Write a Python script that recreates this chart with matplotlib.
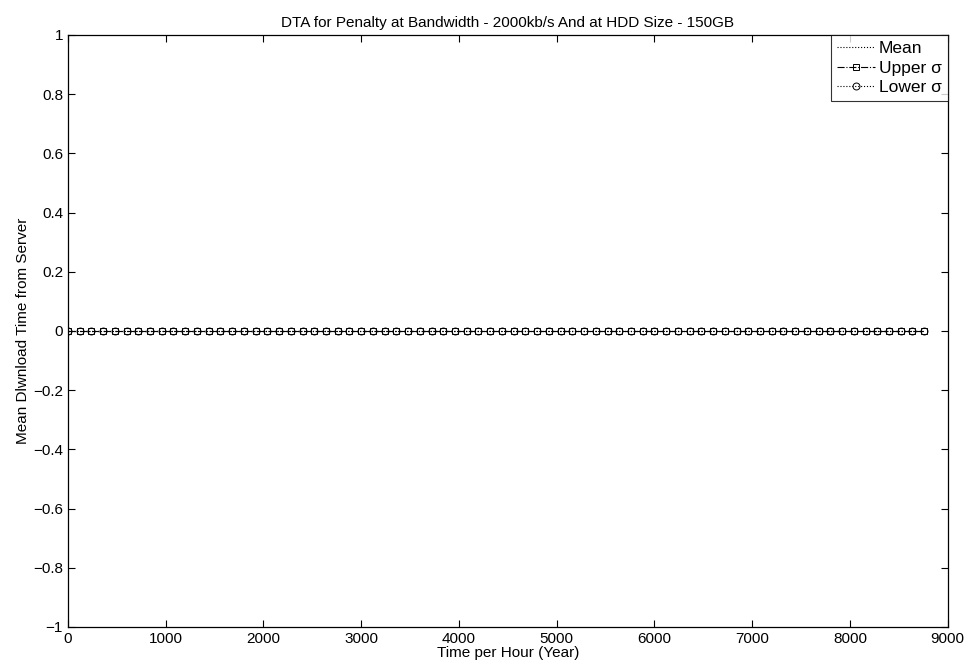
import matplotlib
matplotlib.use("Agg")
import matplotlib.pyplot as plt

plt.rcParams['font.family'] = ['Liberation Sans', 'DejaVu Sans']

hours = list(range(0, 8761, 120))
mean_vals = [0.0 for _ in hours]
upper_vals = [0.0 for _ in hours]
lower_vals = [0.0 for _ in hours]

xticks = [0, 1000, 2000, 3000, 4000, 5000, 6000, 7000, 8000, 9000]
yticks = [-1, -0.8, -0.6, -0.4, -0.2, 0, 0.2, 0.4, 0.6, 0.8, 1]

fig = plt.figure(figsize=(9.7, 6.72), dpi=100)
ax = fig.add_axes([0.070, 0.067, 0.907, 0.881])

ax.plot(hours, mean_vals, linestyle=':', color='black', linewidth=0.8, label='Mean')
ax.plot(hours, upper_vals, linestyle='-.', color='black', linewidth=0.8, marker='s',
        markersize=4, markerfacecolor='none', markeredgewidth=0.7, label='Upper σ')
ax.plot(hours, lower_vals, linestyle=':', color='black', linewidth=0.8, marker='o',
        markersize=5, markerfacecolor='none', markeredgewidth=0.7, label='Lower σ')

ax.set_xlim(0, 9000)
ax.set_ylim(-1, 1)
ax.set_xticks(xticks)
ax.set_xticklabels([str(t) for t in xticks])
ax.set_yticks(yticks)
ax.set_yticklabels(['−1', '−0.8', '−0.6', '−0.4', '−0.2', '0', '0.2', '0.4', '0.6', '0.8', '1'])
ax.tick_params(direction='in', top=True, right=True, labelsize=11, length=5, width=0.8)
for s in ax.spines.values():
    s.set_linewidth(0.9)

ax.set_title('DTA for Penalty at Bandwidth - 2000kb/s And at HDD Size - 150GB', fontsize=11, pad=6)
ax.set_xlabel('Time per Hour (Year)', fontsize=11, labelpad=0)
ax.set_ylabel('Mean Dlwnload Time from Server', fontsize=11, labelpad=2)

leg = ax.legend(loc='upper right', fontsize=12.5, frameon=True, fancybox=False,
                edgecolor='black', borderaxespad=0.0, handlelength=2.2,
                handletextpad=0.2, borderpad=0.35, labelspacing=0.25)
leg.get_frame().set_linewidth(0.8)

fig.savefig('out.png', dpi=100)
